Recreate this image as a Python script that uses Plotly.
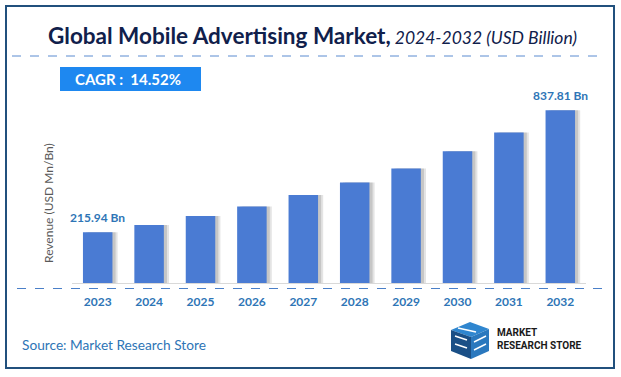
import plotly.graph_objects as go

# ---- data ----
years = ["2023", "2024", "2025", "2026", "2027", "2028", "2029", "2030", "2031", "2032"]
revenue = [215.94, 247, 285, 326, 375, 428, 488, 561, 641, 736]
label_years = ["2023", "2032"]
label_values = [215.94, 736]
label_texts = ["215.94 Bn", "837.81 Bn"]
title_main = "Global Mobile Advertising Market,"
title_sub = " 2024-2032 (USD Billion)"
cagr_text = "CAGR :  14.52%"
y_title = "Revenue (USD Mn/Bn)"
source_text = "Source: Market Research Store"

# ---- layout geometry (pixels) ----
WIDTH, HEIGHT = 621, 377
L, R, T, B = 72, 586, 90, 283
PW, PH = R - L, B - T


def px(x):
    return (x - L) / PW


def py(y):
    return (B - y) / PH


FONT = "Lato, 'Open Sans', sans-serif"
BAR = "#4a7bd3"
BLUE_TXT = "#2e75b6"

fig = go.Figure()

# soft shadows to the right of the bars
for off, alpha in [(0.10, 0.16), (0.06, 0.22)]:
    fig.add_trace(go.Bar(
        x=years, y=revenue, width=0.574, offset=-0.287 + off,
        marker=dict(color=f"rgba(90,90,90,{alpha})", line=dict(width=0)),
        hoverinfo="skip", showlegend=False,
    ))

fig.add_trace(go.Bar(
    x=years, y=revenue, width=0.574, offset=-0.287,
    marker=dict(color=BAR, line=dict(width=0)),
    showlegend=False, hovertemplate="%{x}: %{y}<extra></extra>",
))

annotations = []
for yr, v, t in zip(label_years, label_values, label_texts):
    annotations.append(dict(
        x=years.index(yr), y=v, xref="x", yref="y", text=f"<b>{t}</b>", showarrow=False,
        yanchor="bottom", yshift=5, font=dict(family=FONT, size=12, color=BLUE_TXT),
    ))

# title
annotations.append(dict(
    x=px(312), y=py(36), xref="paper", yref="paper", showarrow=False,
    xanchor="center", yanchor="middle",
    text=f"<b>{title_main}</b><span style='font-size:17.5px'><i>{title_sub}</i></span>",
    font=dict(family=FONT, size=22.5, color="#10204b"),
))
# CAGR text
annotations.append(dict(
    x=px(73), y=py(79), xref="paper", yref="paper", showarrow=False,
    xanchor="left", yanchor="middle", text=f"<b>{cagr_text}</b>",
    font=dict(family=FONT, size=15, color="white"),
))
# y-axis title (rotated)
annotations.append(dict(
    x=px(48), y=py(203), xref="paper", yref="paper", showarrow=False,
    xanchor="center", yanchor="middle", textangle=-90, text=y_title,
    font=dict(family=FONT, size=12, color="#595959"),
))
# source
annotations.append(dict(
    x=px(20), y=py(344), xref="paper", yref="paper", showarrow=False,
    xanchor="left", yanchor="middle", text=source_text,
    font=dict(family=FONT, size=13.7, color=BLUE_TXT),
))
# logo text
annotations.append(dict(
    x=px(495), y=py(339), xref="paper", yref="paper", showarrow=False,
    xanchor="left", yanchor="middle", align="left",
    text="<b>MARKET<br>RESEARCH STORE</b>",
    font=dict(family="Roboto, sans-serif", size=10, color="#1a1a1a"),
))

shapes = []
# outer border
shapes.append(dict(type="rect", xref="paper", yref="paper",
                   x0=px(6), x1=px(614), y0=py(6), y1=py(368),
                   line=dict(color="#21507d", width=2), layer="below"))
# dashed line below title
shapes.append(dict(type="line", xref="paper", yref="paper",
                   x0=px(12), x1=px(600), y0=py(56), y1=py(56),
                   line=dict(color="#5a8bd0", width=1, dash="dash")))
# dashed line below axis
shapes.append(dict(type="line", xref="paper", yref="paper",
                   x0=px(17), x1=px(603), y0=py(288.5), y1=py(288.5),
                   line=dict(color="#4a7fc8", width=1.2, dash="dash")))
# CAGR box
shapes.append(dict(type="rect", xref="paper", yref="paper",
                   x0=px(60), x1=px(201), y0=py(67), y1=py(91),
                   fillcolor="#1e88f0", line=dict(width=0), layer="below"))


# logo icon (simplified cube)
def path(pts):
    return "M " + " L ".join(f"{px(a)},{py(b)}" for a, b in pts) + " Z"


shapes.append(dict(type="path", xref="paper", yref="paper",
                   path=path([(451, 330), (470, 322), (489, 329), (471, 337)]),
                   fillcolor="#2f86cf", line=dict(width=0)))
shapes.append(dict(type="path", xref="paper", yref="paper",
                   path=path([(451, 330), (471, 337), (471, 359), (451, 351)]),
                   fillcolor="#1a4f86", line=dict(width=0)))
shapes.append(dict(type="path", xref="paper", yref="paper",
                   path=path([(471, 337), (489, 329), (489, 351), (471, 359)]),
                   fillcolor="#2a78be", line=dict(width=0)))
for seg in [[(455, 336), (467, 340)], [(455, 344), (467, 348)], [(474, 342), (486, 336)],
            [(474, 350), (486, 344)], [(458, 328), (476, 332)]]:
    shapes.append(dict(type="line", xref="paper", yref="paper",
                       x0=px(seg[0][0]), y0=py(seg[0][1]), x1=px(seg[1][0]), y1=py(seg[1][1]),
                       line=dict(color="white", width=1.5)))

fig.update_layout(
    width=WIDTH, height=HEIGHT,
    margin=dict(l=L, r=WIDTH - R, t=T, b=HEIGHT - B, autoexpand=False),
    paper_bgcolor="white", plot_bgcolor="white",
    barmode="overlay", showlegend=False,
    annotations=annotations, shapes=shapes,
    xaxis=dict(
        type="category", range=[-0.5, 9.5], showgrid=False, zeroline=False,
        showline=True, linecolor="#d9d9d9", linewidth=1,
        ticks="outside", ticklen=8, tickcolor="rgba(0,0,0,0)",
        tickfont=dict(family=FONT, size=12, color=BLUE_TXT, weight="bold"),
        fixedrange=True,
    ),
    yaxis=dict(
        range=[0, 822], showgrid=False, zeroline=False, showline=False,
        showticklabels=False, ticks="", fixedrange=True,
    ),
)

fig.write_html("out.html", config={"displayModeBar": False},
               post_script="document.body.style.margin='0';document.body.style.overflow='hidden';")
